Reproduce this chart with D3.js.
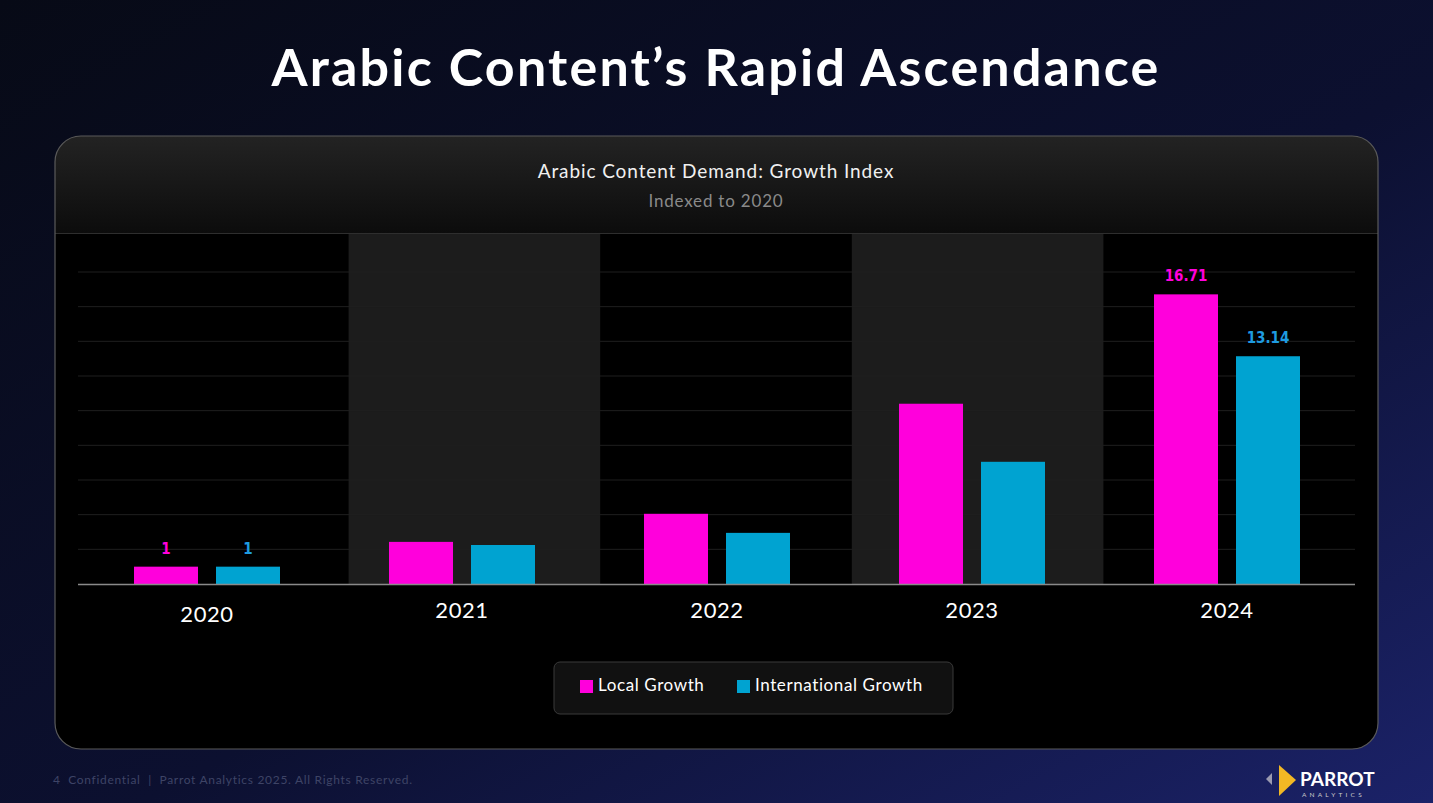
<!DOCTYPE html>
<html><head><meta charset="utf-8">
<script src="https://cdn.jsdelivr.net/npm/d3@7"></script>
<style>body{margin:0;background:#000}svg{display:block}</style>
</head><body><svg id="c" width="1433" height="803"></svg>
<script>
// chart data
var years = ["2020", "2021", "2022", "2023", "2024"];
var localGrowth = [1, 2.43, 4.05, 10.4, 16.71];
var intlGrowth = [1, 2.25, 2.95, 7.05, 13.14];
var gridTicks = [0, 2, 4, 6, 8, 10, 12, 14, 16, 18];

var svg = d3.select("#c");
var defs = svg.append("defs");

var bg = defs.append("linearGradient").attr("id", "bg").attr("x1", 0).attr("y1", 0).attr("x2", 1).attr("y2", 1);
bg.append("stop").attr("offset", "0%").attr("stop-color", "#070a16");
bg.append("stop").attr("offset", "55%").attr("stop-color", "#0c1030");
bg.append("stop").attr("offset", "100%").attr("stop-color", "#1b2268");
svg.append("rect").attr("width", 1433).attr("height", 803).attr("fill", "url(#bg)");

var hd = defs.append("linearGradient").attr("id", "hd").attr("x1", 0).attr("y1", 0).attr("x2", 0).attr("y2", 1);
hd.append("stop").attr("offset", "0%").attr("stop-color", "#232323");
hd.append("stop").attr("offset", "100%").attr("stop-color", "#0c0c0c");

svg.append("text").attr("x", 716).attr("y", 86).attr("text-anchor", "middle")
  .attr("fill", "#fff").attr("font-family", "Lato, 'Open Sans', sans-serif").attr("font-weight", 700)
  .attr("font-size", 52).attr("letter-spacing", 2.2).text("Arabic Content\u2019s Rapid Ascendance");

// card
svg.append("clipPath").attr("id", "cc").append("rect")
  .attr("x", 55).attr("y", 136).attr("width", 1323).attr("height", 613).attr("rx", 26);
var card = svg.append("g").attr("clip-path", "url(#cc)");
card.append("rect").attr("x", 55).attr("y", 136).attr("width", 1323).attr("height", 613).attr("fill", "#000");
card.append("rect").attr("x", 55).attr("y", 136).attr("width", 1323).attr("height", 97).attr("fill", "url(#hd)");
card.append("line").attr("x1", 55).attr("x2", 1378).attr("y1", 233.5).attr("y2", 233.5).attr("stroke", "#2e2e2e");
svg.append("rect").attr("x", 55).attr("y", 136).attr("width", 1323).attr("height", 613).attr("rx", 26)
  .attr("fill", "none").attr("stroke", "#5a5a5a").attr("stroke-width", 1.2);

svg.append("text").attr("x", 716).attr("y", 178).attr("text-anchor", "middle").attr("fill", "#f0f0f0")
  .attr("font-family", "Lato, sans-serif").attr("font-size", 19).attr("letter-spacing", 0.9).text("Arabic Content Demand: Growth Index");
svg.append("text").attr("x", 716).attr("y", 207).attr("text-anchor", "middle").attr("fill", "#8a8a8a")
  .attr("font-family", "Lato, sans-serif").attr("font-size", 17).attr("letter-spacing", 0.8).text("Indexed to 2020");

var x = d3.scaleBand().domain(years).range([79.5, 1354.5]);      // bar groups
var shade = d3.scaleBand().domain(years).range([97, 1355]);      // background bands
var y = d3.scaleLinear().domain([0, 18]).range([584, 272]);
var bw = 64;

card.selectAll(".band").data(years.filter(function (d, i) { return i % 2 == 1; })).enter().append("rect")
  .attr("x", function (d) { return shade(d); }).attr("width", shade.bandwidth())
  .attr("y", 234).attr("height", 350).attr("fill", "#1c1c1c");

svg.selectAll(".grid").data(gridTicks.slice(1)).enter().append("line")
  .attr("x1", 78).attr("x2", 1355).attr("y1", function (d) { return y(d); }).attr("y2", function (d) { return y(d); })
  .attr("stroke", "#1f1f1f");

function cx(i) { return x(years[i]) + x.bandwidth() / 2; }

svg.selectAll(".loc").data(localGrowth).enter().append("rect")
  .attr("x", function (d, i) { return cx(i) - 41 - bw / 2; }).attr("width", bw)
  .attr("y", function (d) { return y(d); }).attr("height", function (d) { return y(0) - y(d); }).attr("fill", "#ff00dc");
svg.selectAll(".intl").data(intlGrowth).enter().append("rect")
  .attr("x", function (d, i) { return cx(i) + 41 - bw / 2; }).attr("width", bw)
  .attr("y", function (d) { return y(d); }).attr("height", function (d) { return y(0) - y(d); }).attr("fill", "#00a3d1");

svg.append("line").attr("x1", 78).attr("x2", 1355).attr("y1", 584.5).attr("y2", 584.5).attr("stroke", "#8a8a8a").attr("stroke-width", 1.5);

// value labels (first and last only)
[0, 4].forEach(function (i) {
  svg.append("text").attr("x", cx(i) - 41).attr("y", y(localGrowth[i]) - 13)
    .attr("text-anchor", "middle").attr("fill", "#ff00dc").attr("font-family", "'Liberation Sans Narrow', 'DejaVu Sans Condensed', sans-serif")
    .attr("font-weight", 700).attr("font-size", 15).text(localGrowth[i]);
  svg.append("text").attr("x", cx(i) + 41).attr("y", y(intlGrowth[i]) - 13)
    .attr("text-anchor", "middle").attr("fill", "#1e9be0").attr("font-family", "'Liberation Sans Narrow', 'DejaVu Sans Condensed', sans-serif")
    .attr("font-weight", 700).attr("font-size", 15).text(intlGrowth[i]);
});

var xAxis = svg.append("g").attr("transform", "translate(0,584)").call(d3.axisBottom(x).tickSize(0).tickPadding(16));
xAxis.select(".domain").remove();
xAxis.selectAll("text").attr("fill", "#fff").attr("font-family", "Lato, sans-serif").attr("font-size", 22)
  .attr("letter-spacing", 0.6).attr("dy", function (d) { return d == "2020" ? "1.0em" : "0.8em"; });

// legend
svg.append("rect").attr("x", 554).attr("y", 662).attr("width", 399).attr("height", 52).attr("rx", 6)
  .attr("fill", "#111").attr("stroke", "#3a3a3a");
var leg = [["Local Growth", "#ff00dc", 580], ["International Growth", "#00a3d1", 737]];
leg.forEach(function (l) {
  svg.append("rect").attr("x", l[2]).attr("y", 680).attr("width", 13).attr("height", 13).attr("fill", l[1]);
  svg.append("text").attr("x", l[2] + 18).attr("y", 691).attr("fill", "#fff").attr("font-family", "Lato, sans-serif")
    .attr("font-size", 17).attr("letter-spacing", 0.6).text(l[0]);
});

// footer
svg.append("text").attr("x", 53).attr("y", 784).attr("fill", "#3e4466").attr("font-family", "Lato, sans-serif")
  .attr("font-size", 12).attr("letter-spacing", 0.7).attr("xml:space", "preserve")
  .text("4  Confidential  |  Parrot Analytics 2025. All Rights Reserved.");
svg.append("path").attr("d", "M1272,773 L1266,779 L1272,785 Z").attr("fill", "#9a9ab0");
svg.append("path").attr("d", "M1279,765 L1296,780 L1279,796 Z").attr("fill", "#f2b824");
svg.append("text").attr("x", 1300).attr("y", 786).attr("fill", "#fff").attr("font-family", "Lato, sans-serif")
  .attr("font-weight", 700).attr("font-size", 19).text("PARROT");
svg.append("text").attr("x", 1302).attr("y", 797).attr("fill", "#ccc").attr("font-family", "Lato, sans-serif")
  .attr("font-size", 6.5).attr("letter-spacing", 3.2).text("ANALYTICS");
</script></body></html>
